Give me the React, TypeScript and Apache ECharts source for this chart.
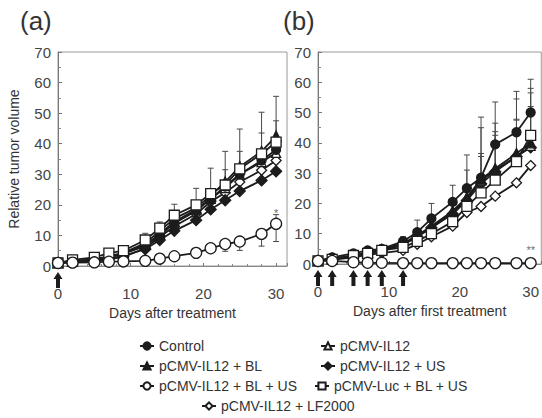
import React, { useEffect, useRef } from 'react';
import * as echarts from 'echarts';

// ---------- data ----------
const days = [0, 2, 5, 7, 9, 12, 14, 16, 19, 21, 23, 25, 28, 30];

const seriesNames = [
  'Control',
  'pCMV-IL12',
  'pCMV-IL12 + BL',
  'pCMV-IL12 + US',
  'pCMV-IL12 + BL + US',
  'pCMV-Luc + BL + US',
  'pCMV-IL12 + LF2000',
];

// panel (a)
const aControl = [1, 1.5, 2, 3, 4, 6.5, 10, 14, 18, 22, 26, 30, 34.5, 38];
const aIL12 = [1, 1.5, 2.2, 3, 4, 7, 10.5, 14.5, 18.5, 22, 25.5, 30, 34, 37];
const aIL12BL = [1, 1.6, 2.2, 3.2, 4.3, 7.5, 11.5, 15.5, 19, 23, 27.5, 32.5, 37.5, 42.5];
const aIL12US = [1, 1.3, 1.8, 2.5, 3.3, 5.5, 8.5, 11.5, 15, 18.5, 21.5, 24.5, 28, 31];
const aIL12BLUS = [1, 1.1, 1.2, 1.4, 1.5, 1.7, 2.4, 3.2, 4.3, 5.8, 7.2, 8, 10.5, 13.8];
const aLuc = [1, 2, 2.8, 4.2, 5, 8.5, 12.4, 16.6, 20, 23.7, 26.5, 31.8, 36.7, 40.5];
const aLF2000 = [1, 1.2, 1.6, 2.2, 3, 5.8, 9.5, 13, 17, 21, 24, 27.5, 31.3, 34.5];

// panel (b)
const bControl = [1, 2.2, 3.5, 4.5, 5, 7.5, 10.5, 15, 20.5, 25, 28.5, 39.5, 43.5, 50];
const bIL12 = [1, 1.8, 2.8, 3.8, 4.5, 6.5, 9, 12, 17, 21.5, 27.5, 31, 35.5, 39];
const bIL12BL = [1, 1.8, 2.8, 3.8, 4.8, 6.8, 9.5, 12.5, 17.5, 22, 28, 31.5, 36.5, 40];
const bIL12US = [1, 1.7, 2.6, 3.5, 4.3, 6.3, 9, 12, 16.5, 21, 26.5, 30.5, 35.5, 38.5];
const bIL12BLUS = [1, 1, 0.6, 0.4, 0.4, 0.3, 0.3, 0.3, 0.3, 0.3, 0.3, 0.3, 0.3, 0.3];
const bLuc = [1, 1.5, 2.8, 3.5, 4.5, 5.5, 7.5, 10, 14, 19, 23.5, 27.7, 33.8, 42.5];
const bLF2000 = [1, 1.4, 2.2, 3, 3.6, 4.5, 6.5, 9, 12.5, 17, 19, 22.4, 26.8, 32.5];

// error bars (upper / lower), aligned with days
const aLucErrUp = [0, 0, 0, 0, 0, 2.2, 2, 3.6, 5.4, 8.3, 11, 13, 13.6, 15];
const aIL12BLErrUp = [0, 0, 0, 0, 0, 0, 0, 0, 0, 0, 4, 5, 6, 5];
const aIL12BLUSErrDown = [0, 0, 0, 0, 0, 0, 0, 0, 0, 0, 2.4, 2.9, 4, 5.8];
const aIL12BLUSErrUp = [0, 0, 0, 0, 0, 0, 0, 0, 0, 0, 0, 0, 0, 3];
const bControlErrUp = [0, 0, 0, 0, 0, 1.5, 4, 5, 5.5, 11, 20, 14, 13.5, 11];
const bIL12BLErrUp = [0, 0, 0, 0, 0, 0, 0, 0, 4, 9, 17, 15, 18, 18];
const bLucErrUp = [0, 0, 0, 0, 0, 0, 0, 0, 3, 7, 12, 16, 14, 14];
const bIL12USErrUp = [0, 0, 0, 0, 0, 0, 0, 0, 0, 5, 10, 12, 12, 13.5];

// treatment days (arrows)
const arrowDaysA = [0];
const arrowDaysB = [0, 2, 5, 7, 9, 12];

// significance marks
const starsA = [{ day: 30, value: 17.5, text: '*' }];
const starsB = [{ day: 30, value: 4.5, text: '**' }];

const panelTitles = ['(a)', '(b)'];
const xNames = ['Days after treatment', 'Days after first treatment'];
const yName = 'Relative tumor volume';
const yTicks = { min: 0, max: 70, interval: 10 };
const xTicks = { min: 0, max: 31.5, interval: 10 };

// ---------- styles ----------
const INK = '#1c1c1c';
const FONT = 'Liberation Sans, Arial, Helvetica, sans-serif';

const symbolStyles: Record<string, { symbol: string; size: number; fill: string }> = {
  'Control': { symbol: 'circle', size: 9, fill: INK },
  'pCMV-IL12': { symbol: 'triangle', size: 9, fill: '#fff' },
  'pCMV-IL12 + BL': { symbol: 'triangle', size: 10, fill: INK },
  'pCMV-IL12 + US': { symbol: 'diamond', size: 11, fill: INK },
  'pCMV-IL12 + BL + US': { symbol: 'circle', size: 11, fill: '#fff' },
  'pCMV-Luc + BL + US': { symbol: 'rect', size: 10, fill: '#fff' },
  'pCMV-IL12 + LF2000': { symbol: 'diamond', size: 10, fill: '#fff' },
};

const drawOrder = [
  'pCMV-IL12 + LF2000',
  'pCMV-IL12 + US',
  'pCMV-IL12',
  'Control',
  'pCMV-IL12 + BL',
  'pCMV-Luc + BL + US',
  'pCMV-IL12 + BL + US',
];

const legendLayout = [
  { name: 'Control', left: 139, top: 339 },
  { name: 'pCMV-IL12', left: 320, top: 339 },
  { name: 'pCMV-IL12 + BL', left: 139, top: 359 },
  { name: 'pCMV-IL12 + US', left: 320, top: 359 },
  { name: 'pCMV-IL12 + BL + US', left: 139, top: 379 },
  { name: 'pCMV-Luc + BL + US', left: 314, top: 379 },
  { name: 'pCMV-IL12 + LF2000', left: 201, top: 399 },
];

export default function App() {
  const ref = useRef<HTMLDivElement>(null);

  useEffect(() => {
    if (!ref.current) return;
    const chart = echarts.init(ref.current, undefined, { renderer: 'svg' });

    const panelData: Record<string, number[]>[] = [
      {
        'Control': aControl,
        'pCMV-IL12': aIL12,
        'pCMV-IL12 + BL': aIL12BL,
        'pCMV-IL12 + US': aIL12US,
        'pCMV-IL12 + BL + US': aIL12BLUS,
        'pCMV-Luc + BL + US': aLuc,
        'pCMV-IL12 + LF2000': aLF2000,
      },
      {
        'Control': bControl,
        'pCMV-IL12': bIL12,
        'pCMV-IL12 + BL': bIL12BL,
        'pCMV-IL12 + US': bIL12US,
        'pCMV-IL12 + BL + US': bIL12BLUS,
        'pCMV-Luc + BL + US': bLuc,
        'pCMV-IL12 + LF2000': bLF2000,
      },
    ];

    const errorSets: { vals: number[]; up: number[]; down: number[] }[][] = [
      [
        { vals: aLuc, up: aLucErrUp, down: days.map(() => 0) },
        { vals: aIL12BL, up: aIL12BLErrUp, down: days.map(() => 0) },
        { vals: aIL12BLUS, up: aIL12BLUSErrUp, down: aIL12BLUSErrDown },
      ],
      [
        { vals: bControl, up: bControlErrUp, down: days.map(() => 0) },
        { vals: bIL12BL, up: bIL12BLErrUp, down: days.map(() => 0) },
        { vals: bLuc, up: bLucErrUp, down: days.map(() => 0) },
        { vals: bIL12US, up: bIL12USErrUp, down: days.map(() => 0) },
      ],
    ];

    const errRender = (_p: any, api: any) => {
      const x = api.value(0);
      const y = api.value(1);
      const up = api.value(2);
      const dn = api.value(3);
      const c = api.coord([x, y]);
      const t = api.coord([x, y + up]);
      const b = api.coord([x, y - dn]);
      const st = { stroke: '#4a4a4a', lineWidth: 1 };
      const children: any[] = [
        { type: 'line', shape: { x1: c[0], y1: t[1], x2: c[0], y2: b[1] }, style: st },
      ];
      if (up > 0) children.push({ type: 'line', shape: { x1: c[0] - 3, y1: t[1], x2: c[0] + 3, y2: t[1] }, style: st });
      if (dn > 0) children.push({ type: 'line', shape: { x1: c[0] - 3, y1: b[1], x2: c[0] + 3, y2: b[1] }, style: st });
      return { type: 'group', children };
    };

    const arrowRender = (_p: any, api: any) => {
      const p = api.coord([api.value(0), 0]);
      const x = p[0];
      const y = p[1];
      return {
        type: 'polygon',
        shape: {
          points: [
            [x, y + 6],
            [x + 4.5, y + 13],
            [x + 2, y + 13],
            [x + 2, y + 22],
            [x - 2, y + 22],
            [x - 2, y + 13],
            [x - 4.5, y + 13],
          ],
        },
        style: { fill: INK },
      };
    };

    const series: any[] = [];
    [0, 1].forEach((pi) => {
      errorSets[pi].forEach((es) => {
        series.push({
          type: 'custom',
          xAxisIndex: pi,
          yAxisIndex: pi,
          z: 1,
          silent: true,
          clip: false,
          itemStyle: { color: '#4a4a4a' },
          renderItem: errRender,
          data: days
            .map((d, i) => [d, es.vals[i], es.up[i], es.down[i]])
            .filter((r) => r[2] > 0 || r[3] > 0),
        });
      });
      drawOrder.forEach((name, k) => {
        const s = symbolStyles[name];
        series.push({
          type: 'line',
          name,
          xAxisIndex: pi,
          yAxisIndex: pi,
          z: 3 + k,
          clip: false,
          symbol: s.symbol,
          symbolSize: s.size,
          showAllSymbol: true,
          lineStyle: { color: INK, width: 1.8 },
          itemStyle: { color: s.fill, borderColor: INK, borderWidth: 1.3 },
          data: days.map((d, i) => [d, panelData[pi][name][i]]),
        });
      });
      series.push({
        type: 'custom',
        xAxisIndex: pi,
        yAxisIndex: pi,
        silent: true,
        clip: false,
        itemStyle: { color: INK },
        renderItem: arrowRender,
        data: (pi === 0 ? arrowDaysA : arrowDaysB).map((d) => [d, 0]),
      });
      series.push({
        type: 'scatter',
        xAxisIndex: pi,
        yAxisIndex: pi,
        silent: true,
        clip: false,
        z: 20,
        symbolSize: 1,
        itemStyle: { color: 'rgba(0,0,0,0)' },
        label: {
          show: true,
          position: 'inside',
          color: '#444',
          fontSize: 11,
          fontFamily: FONT,
          formatter: (p: any) => p.data.text,
        },
        data: (pi === 0 ? starsA : starsB).map((s) => ({ value: [s.day, s.value], text: s.text })),
      });
    });

    const gridBox = [
      { left: 58, top: 52, width: 229, height: 214 },
      { left: 318, top: 52, width: 229, height: 212 },
    ];

    const option: any = {
      animation: false,
      textStyle: { fontFamily: FONT },
      title: panelTitles.map((t, i) => ({
        text: t,
        left: i === 0 ? 20 : 283,
        top: 8,
        padding: 0,
        textStyle: { fontSize: 26, fontWeight: 'normal', color: '#333', fontFamily: FONT },
      })),
      legend: legendLayout.map((l) => ({
        data: [l.name],
        left: l.left,
        top: l.top,
        padding: 0,
        itemWidth: 14,
        itemHeight: 9,
        selectedMode: false,
        textStyle: { fontSize: 14, color: '#333', fontFamily: FONT },
      })),
      grid: gridBox.map((g) => ({ ...g, show: true, borderColor: '#9a9a9a', borderWidth: 1, backgroundColor: 'transparent' })),
      xAxis: [0, 1].map((i) => ({
        type: 'value',
        gridIndex: i,
        min: xTicks.min,
        max: xTicks.max,
        interval: xTicks.interval,
        name: xNames[i],
        nameLocation: 'middle',
        nameGap: i === 0 ? 37 : 39,
        nameTextStyle: { fontSize: 14, color: '#333', fontFamily: FONT },
        axisLine: { show: true, lineStyle: { color: '#888', width: 1 } },
        axisTick: { show: true, inside: true, length: 3, lineStyle: { color: '#777' } },
        minorTick: { show: true, splitNumber: 5, length: 2, lineStyle: { color: '#888' } },
        splitLine: { show: false },
        axisLabel: { fontSize: 15, color: '#444', margin: 20, showMaxLabel: false, fontFamily: FONT },
      })),
      yAxis: [0, 1].map((i) => ({
        type: 'value',
        gridIndex: i,
        min: yTicks.min,
        max: yTicks.max,
        interval: yTicks.interval,
        name: i === 0 ? yName : '',
        nameLocation: 'middle',
        nameGap: 37,
        nameTextStyle: { fontSize: 14, color: '#333', fontFamily: FONT },
        axisLine: { show: true, lineStyle: { color: '#777', width: 1 } },
        axisTick: { show: true, inside: true, length: 4, lineStyle: { color: '#777' } },
        minorTick: { show: true, splitNumber: 2, length: 3, lineStyle: { color: '#888' } },
        splitLine: { show: false },
        axisLabel: { fontSize: 15, color: '#444', margin: 7, fontFamily: FONT },
      })),
      series,
    };

    chart.setOption(option);
    return () => chart.dispose();
  }, []);

  return <div ref={ref} style={{ width: 542, height: 418, position: 'absolute', left: 0, top: 0, background: '#fff' }} />;
}
